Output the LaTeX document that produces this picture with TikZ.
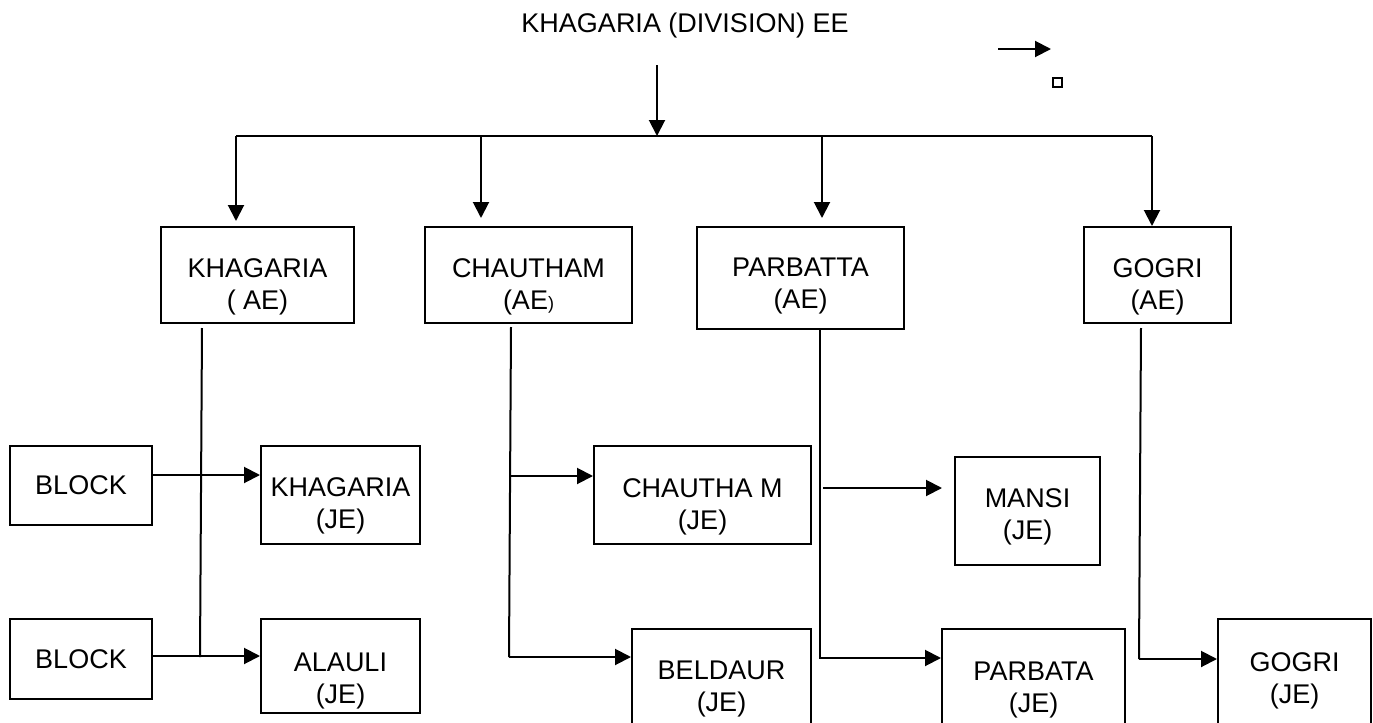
\documentclass[tikz,border=0pt]{standalone}
\usepackage{fontspec}
\setmainfont{Liberation Sans}
\usetikzlibrary{arrows.meta, calc}
\newcommand\orgfont{\fontsize{13.5}{16}\selectfont}
\tikzset{
  box/.style={rectangle, draw, line width=1pt, inner sep=0pt, align=center, font=\orgfont},
  box2/.style={box, text height=#1},
  box2/.default=37.7pt,
  arrow/.style={-{Triangle[length=8pt, width=8pt]}, line width=1pt},
  link/.style={line width=1pt},
}

\begin{document}
\begin{tikzpicture}[x=0.5pt, y=-0.5pt]
\useasboundingbox (0,0) rectangle (1373,723);
\clip (0,0) rectangle (1373,723);

% head
\node[font=\orgfont] (title) at (685,26) {KHAGARIA (DIVISION) EE};
\coordinate (na) at (998,49);
\coordinate (nb) at (1051,49);
\draw[arrow] (na) -- (nb);
\node[draw, line width=1pt, minimum size=4.5pt, inner sep=0pt] (sq) at (1057,82.5) {};

% AE level
\node[box2, minimum width=96.5pt, minimum height=48pt] (kae) at (257.5,275) {KHAGARIA\\( AE)};
\node[box2, minimum width=103.5pt, minimum height=48pt] (cae) at (528.5,275) {CHAUTHAM\\(AE{\fontsize{9}{10}\selectfont)}};
\node[box2=33.7pt, minimum width=103.5pt, minimum height=51pt] (pae) at (800.5,278) {PARBATTA\\(AE)};
\node[box2, minimum width=73.5pt, minimum height=48pt] (gae) at (1157.5,275) {GOGRI\\(AE)};

% JE level
\node[box, minimum width=71pt, minimum height=39.5pt] (blocka) at (81,485.5) {BLOCK};
\node[box, minimum width=71pt, minimum height=40pt] (blockb) at (81,659) {BLOCK};
\node[box2=36.7pt, minimum width=79.5pt, minimum height=49pt] (kje) at (340.5,495) {KHAGARIA\\(JE)};
\node[box2=40.7pt, minimum width=79.5pt, minimum height=47pt] (aje) at (340.5,666) {ALAULI\\(JE)};
\node[box2, minimum width=108.5pt, minimum height=49pt] (cje) at (702.5,495) {CHAUTHA M\\(JE)};
\node[box2=28.7pt, minimum width=89.5pt, minimum height=57pt] (bje) at (721.5,686) {BELDAUR\\(JE)};
\node[box2=31.7pt, minimum width=72.5pt, minimum height=54pt] (mje) at (1027.5,511) {MANSI\\(JE)};
\node[box2=29.7pt, minimum width=91.5pt, minimum height=57pt] (pje) at (1033.5,686) {PARBATA\\(JE)};
\node[box2=30.7pt, minimum width=76.5pt, minimum height=57pt] (gje) at (1294.5,676) {GOGRI\\(JE)};

% division bar
\coordinate (drop) at (657,65);
\coordinate (ba) at (236,136);
\coordinate (bb) at (481,136);
\coordinate (bc) at (822,136);
\coordinate (bd) at (1152,136);
\draw[arrow] (drop) -- (drop |- ba);
\draw[link] (ba) -- (bd);
\draw[arrow, shorten >=2.5pt] (ba) -- (ba |- kae.north);
\draw[arrow, shorten >=4pt] (bb) -- (bb |- cae.north);
\draw[arrow, shorten >=4pt] (bc) -- (bc |- pae.north);
\draw[arrow] (bd) -- (bd |- gae.north);

% khagaria
\coordinate (ka) at (202,328);
\coordinate (kb) at (200,657);
\draw[link] (ka) -- (kb);
\draw[arrow] (blocka.east |- 0,475) -- (kje.west |- 0,475);
\draw[arrow] (blockb.east |- 0,656) -- (aje.west |- 0,656);

% chautham
\coordinate (ca) at (511,327);
\coordinate (cb) at (509,657);
\draw[link] (ca) -- (cb);
\draw[arrow] (ca |- 0,476) -- (cje.west |- 0,476);
\draw[arrow] (cb) -- (cb -| bje.west);

% parbatta
\coordinate (pa) at (820,330);
\coordinate (pb) at (820,658);
\draw[arrow] (pa) -- (pb) -- (pb -| pje.west);
\draw[arrow, shorten >=6pt] ([xshift=1.5pt]pa |- 0,488) -- (mje.west |- 0,488);

% gogri
\coordinate (ga) at (1141,328);
\coordinate (gb) at (1139,659);
\draw[link] (ga) -- (gb);
\draw[arrow] (gb) -- (gb -| gje.west);
\end{tikzpicture}
\end{document}
